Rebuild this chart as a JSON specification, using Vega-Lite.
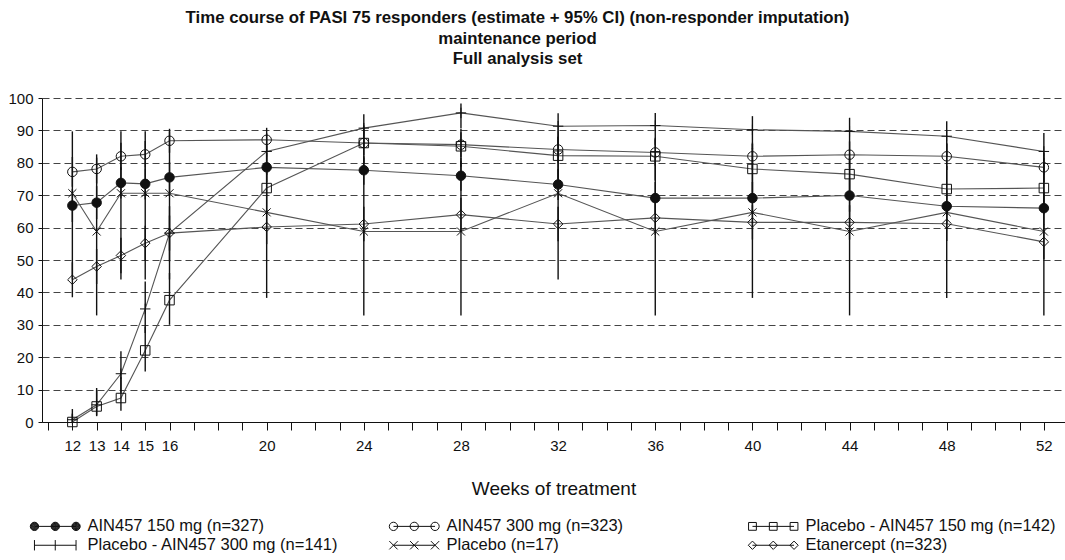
{
  "$schema": "https://vega.github.io/schema/vega-lite/v6.json",
  "width": 1023,
  "height": 324,
  "autosize": {"type": "none"},
  "padding": {"left": 42, "top": 98, "right": 0, "bottom": 138},
  "background": "white",
  "title": {
    "text": ["Time course of PASI 75 responders (estimate + 95% CI) (non-responder imputation)", "maintenance period", "Full analysis set"],
    "anchor": "middle",
    "frame": "group",
    "dx": -36,
    "offset": 23,
    "font": "'Liberation Sans', Arial, sans-serif",
    "fontSize": 16.8,
    "fontWeight": "bold",
    "lineHeight": 20.5,
    "color": "#111"
  },
  "data": {"values": [
    {"group": "AIN457 150 mg (n=327)", "week": 12, "est": 66.8, "lo": 61.7, "hi": 71.9},
    {"group": "AIN457 150 mg (n=327)", "week": 13, "est": 67.7, "lo": 62.6, "hi": 72.8},
    {"group": "AIN457 150 mg (n=327)", "week": 14, "est": 73.8, "lo": 69.0, "hi": 78.6},
    {"group": "AIN457 150 mg (n=327)", "week": 15, "est": 73.5, "lo": 68.7, "hi": 78.3},
    {"group": "AIN457 150 mg (n=327)", "week": 16, "est": 75.5, "lo": 70.8, "hi": 80.2},
    {"group": "AIN457 150 mg (n=327)", "week": 20, "est": 78.6, "lo": 74.1, "hi": 83.1},
    {"group": "AIN457 150 mg (n=327)", "week": 24, "est": 77.7, "lo": 73.2, "hi": 82.2},
    {"group": "AIN457 150 mg (n=327)", "week": 28, "est": 76.0, "lo": 71.4, "hi": 80.6},
    {"group": "AIN457 150 mg (n=327)", "week": 32, "est": 73.3, "lo": 68.5, "hi": 78.1},
    {"group": "AIN457 150 mg (n=327)", "week": 36, "est": 69.1, "lo": 64.1, "hi": 74.1},
    {"group": "AIN457 150 mg (n=327)", "week": 40, "est": 69.1, "lo": 64.1, "hi": 74.1},
    {"group": "AIN457 150 mg (n=327)", "week": 44, "est": 69.9, "lo": 64.9, "hi": 74.9},
    {"group": "AIN457 150 mg (n=327)", "week": 48, "est": 66.6, "lo": 61.5, "hi": 71.7},
    {"group": "AIN457 150 mg (n=327)", "week": 52, "est": 66.0, "lo": 60.9, "hi": 71.1},
    {"group": "AIN457 300 mg (n=323)", "week": 12, "est": 77.2, "lo": 72.6, "hi": 81.8},
    {"group": "AIN457 300 mg (n=323)", "week": 13, "est": 78.1, "lo": 73.6, "hi": 82.6},
    {"group": "AIN457 300 mg (n=323)", "week": 14, "est": 82.0, "lo": 77.8, "hi": 86.2},
    {"group": "AIN457 300 mg (n=323)", "week": 15, "est": 82.6, "lo": 78.5, "hi": 86.7},
    {"group": "AIN457 300 mg (n=323)", "week": 16, "est": 86.8, "lo": 83.1, "hi": 90.5},
    {"group": "AIN457 300 mg (n=323)", "week": 20, "est": 87.1, "lo": 83.4, "hi": 90.8},
    {"group": "AIN457 300 mg (n=323)", "week": 24, "est": 86.1, "lo": 82.3, "hi": 89.9},
    {"group": "AIN457 300 mg (n=323)", "week": 28, "est": 85.6, "lo": 81.8, "hi": 89.4},
    {"group": "AIN457 300 mg (n=323)", "week": 32, "est": 84.1, "lo": 80.1, "hi": 88.1},
    {"group": "AIN457 300 mg (n=323)", "week": 36, "est": 83.2, "lo": 79.1, "hi": 87.3},
    {"group": "AIN457 300 mg (n=323)", "week": 40, "est": 82.0, "lo": 77.8, "hi": 86.2},
    {"group": "AIN457 300 mg (n=323)", "week": 44, "est": 82.5, "lo": 78.4, "hi": 86.6},
    {"group": "AIN457 300 mg (n=323)", "week": 48, "est": 82.0, "lo": 77.8, "hi": 86.2},
    {"group": "AIN457 300 mg (n=323)", "week": 52, "est": 78.6, "lo": 74.1, "hi": 83.1},
    {"group": "Placebo - AIN457 150 mg (n=142)", "week": 12, "est": 0.0, "lo": 0.0, "hi": 2.6},
    {"group": "Placebo - AIN457 150 mg (n=142)", "week": 13, "est": 4.8, "lo": 1.8, "hi": 9.8},
    {"group": "Placebo - AIN457 150 mg (n=142)", "week": 14, "est": 7.4, "lo": 3.5, "hi": 13.8},
    {"group": "Placebo - AIN457 150 mg (n=142)", "week": 15, "est": 22.1, "lo": 15.6, "hi": 29.5},
    {"group": "Placebo - AIN457 150 mg (n=142)", "week": 16, "est": 37.6, "lo": 30.0, "hi": 46.0},
    {"group": "Placebo - AIN457 150 mg (n=142)", "week": 20, "est": 72.2, "lo": 64.5, "hi": 79.5},
    {"group": "Placebo - AIN457 150 mg (n=142)", "week": 24, "est": 86.1, "lo": 79.8, "hi": 91.5},
    {"group": "Placebo - AIN457 150 mg (n=142)", "week": 28, "est": 85.1, "lo": 78.8, "hi": 90.5},
    {"group": "Placebo - AIN457 150 mg (n=142)", "week": 32, "est": 82.2, "lo": 75.0, "hi": 88.0},
    {"group": "Placebo - AIN457 150 mg (n=142)", "week": 36, "est": 82.0, "lo": 74.5, "hi": 87.7},
    {"group": "Placebo - AIN457 150 mg (n=142)", "week": 40, "est": 78.1, "lo": 70.5, "hi": 84.5},
    {"group": "Placebo - AIN457 150 mg (n=142)", "week": 44, "est": 76.5, "lo": 68.8, "hi": 83.2},
    {"group": "Placebo - AIN457 150 mg (n=142)", "week": 48, "est": 71.9, "lo": 63.8, "hi": 79.0},
    {"group": "Placebo - AIN457 150 mg (n=142)", "week": 52, "est": 72.2, "lo": 64.1, "hi": 79.3},
    {"group": "Placebo - AIN457 300 mg (n=141)", "week": 12, "est": 0.7, "lo": 0.0, "hi": 4.0},
    {"group": "Placebo - AIN457 300 mg (n=141)", "week": 13, "est": 5.3, "lo": 2.0, "hi": 10.5},
    {"group": "Placebo - AIN457 300 mg (n=141)", "week": 14, "est": 14.9, "lo": 9.0, "hi": 21.8},
    {"group": "Placebo - AIN457 300 mg (n=141)", "week": 15, "est": 34.9, "lo": 27.5, "hi": 43.4},
    {"group": "Placebo - AIN457 300 mg (n=141)", "week": 16, "est": 58.3, "lo": 49.6, "hi": 66.6},
    {"group": "Placebo - AIN457 300 mg (n=141)", "week": 20, "est": 83.5, "lo": 76.3, "hi": 89.1},
    {"group": "Placebo - AIN457 300 mg (n=141)", "week": 24, "est": 90.7, "lo": 84.6, "hi": 95.0},
    {"group": "Placebo - AIN457 300 mg (n=141)", "week": 28, "est": 95.4, "lo": 90.7, "hi": 98.3},
    {"group": "Placebo - AIN457 300 mg (n=141)", "week": 32, "est": 91.3, "lo": 85.4, "hi": 95.3},
    {"group": "Placebo - AIN457 300 mg (n=141)", "week": 36, "est": 91.5, "lo": 85.6, "hi": 95.4},
    {"group": "Placebo - AIN457 300 mg (n=141)", "week": 40, "est": 90.2, "lo": 84.2, "hi": 94.4},
    {"group": "Placebo - AIN457 300 mg (n=141)", "week": 44, "est": 89.7, "lo": 83.5, "hi": 93.9},
    {"group": "Placebo - AIN457 300 mg (n=141)", "week": 48, "est": 88.2, "lo": 81.8, "hi": 92.8},
    {"group": "Placebo - AIN457 300 mg (n=141)", "week": 52, "est": 83.5, "lo": 76.3, "hi": 89.2},
    {"group": "Placebo (n=17)", "week": 12, "est": 70.6, "lo": 44.0, "hi": 89.7},
    {"group": "Placebo (n=17)", "week": 13, "est": 58.8, "lo": 32.9, "hi": 81.6},
    {"group": "Placebo (n=17)", "week": 14, "est": 70.6, "lo": 44.0, "hi": 89.7},
    {"group": "Placebo (n=17)", "week": 15, "est": 70.6, "lo": 44.0, "hi": 89.7},
    {"group": "Placebo (n=17)", "week": 16, "est": 70.6, "lo": 44.0, "hi": 89.7},
    {"group": "Placebo (n=17)", "week": 20, "est": 64.7, "lo": 38.3, "hi": 85.8},
    {"group": "Placebo (n=17)", "week": 24, "est": 58.8, "lo": 32.9, "hi": 81.6},
    {"group": "Placebo (n=17)", "week": 28, "est": 58.8, "lo": 32.9, "hi": 81.6},
    {"group": "Placebo (n=17)", "week": 32, "est": 70.6, "lo": 44.0, "hi": 89.7},
    {"group": "Placebo (n=17)", "week": 36, "est": 58.8, "lo": 32.9, "hi": 81.6},
    {"group": "Placebo (n=17)", "week": 40, "est": 64.7, "lo": 38.3, "hi": 85.8},
    {"group": "Placebo (n=17)", "week": 44, "est": 58.8, "lo": 32.9, "hi": 81.6},
    {"group": "Placebo (n=17)", "week": 48, "est": 64.7, "lo": 38.3, "hi": 85.8},
    {"group": "Placebo (n=17)", "week": 52, "est": 58.8, "lo": 32.9, "hi": 81.6},
    {"group": "Etanercept (n=323)", "week": 12, "est": 43.9, "lo": 38.5, "hi": 49.3},
    {"group": "Etanercept (n=323)", "week": 13, "est": 48.0, "lo": 42.6, "hi": 53.4},
    {"group": "Etanercept (n=323)", "week": 14, "est": 51.4, "lo": 45.9, "hi": 56.9},
    {"group": "Etanercept (n=323)", "week": 15, "est": 55.2, "lo": 49.8, "hi": 60.6},
    {"group": "Etanercept (n=323)", "week": 16, "est": 58.3, "lo": 52.9, "hi": 63.7},
    {"group": "Etanercept (n=323)", "week": 20, "est": 60.2, "lo": 54.9, "hi": 65.5},
    {"group": "Etanercept (n=323)", "week": 24, "est": 61.1, "lo": 55.8, "hi": 66.4},
    {"group": "Etanercept (n=323)", "week": 28, "est": 64.0, "lo": 58.8, "hi": 69.2},
    {"group": "Etanercept (n=323)", "week": 32, "est": 61.1, "lo": 55.8, "hi": 66.4},
    {"group": "Etanercept (n=323)", "week": 36, "est": 63.0, "lo": 57.7, "hi": 68.3},
    {"group": "Etanercept (n=323)", "week": 40, "est": 61.6, "lo": 56.3, "hi": 66.9},
    {"group": "Etanercept (n=323)", "week": 44, "est": 61.6, "lo": 56.3, "hi": 66.9},
    {"group": "Etanercept (n=323)", "week": 48, "est": 61.2, "lo": 55.9, "hi": 66.5},
    {"group": "Etanercept (n=323)", "week": 52, "est": 55.6, "lo": 50.2, "hi": 61.0}
  ]},
  "encoding": {
    "x": {
      "field": "week", "type": "quantitative",
      "scale": {"domain": [10.75, 52.87], "nice": false, "zero": false},
      "axis": {
        "title": "Weeks of treatment",
        "values": [11,12,13,14,15,16,17,18,19,20,21,22,23,24,25,26,27,28,29,30,31,32,33,34,35,36,37,38,39,40,41,42,43,44,45,46,47,48,49,50,51,52],
        "labelExpr": "indexof([12,13,14,15,16,20,24,28,32,36,40,44,48,52], datum.value) >= 0 ? datum.label : ''",
        "grid": false,
        "tickSize": 8,
        "labelPadding": 8,
        "labelOverlap": false,
        "labelFlush": false,
        "labelAngle": 0,
        "titlePadding": 26
      }
    },
    "y": {
      "field": "est", "type": "quantitative",
      "scale": {"domain": [0, 100], "nice": false},
      "axis": {"title": null, "values": [0,10,20,30,40,50,60,70,80,90,100], "tickCount": 11, "labelOverlap": false, "grid": true, "gridDash": [7, 4], "gridColor": "#444", "gridWidth": 1, "tickSize": 4, "labelPadding": 5}
    },
    "xOffset": {
      "field": "group", "type": "nominal",
      "scale": {"type": "point", "padding": 0, "range": [-6, 6.5],
        "domain": ["AIN457 150 mg (n=327)", "AIN457 300 mg (n=323)", "Placebo - AIN457 150 mg (n=142)", "Placebo - AIN457 300 mg (n=141)", "Placebo (n=17)", "Etanercept (n=323)"]}
    }
  },
  "layer": [
    {
      "mark": {"type": "line", "stroke": "#555", "strokeWidth": 1.1},
      "encoding": {
        "detail": {"field": "group", "type": "nominal"}
      }
    },
    {
      "mark": {"type": "rule", "stroke": "#111", "strokeWidth": 1.4},
      "encoding": {
        "y": {
          "field": "lo", "type": "quantitative",
          "scale": {"domain": [0, 100], "nice": false},
          "axis": {"title": null, "values": [0,10,20,30,40,50,60,70,80,90,100], "tickCount": 11, "labelOverlap": false, "grid": true, "gridDash": [7, 4], "gridColor": "#444", "gridWidth": 1, "tickSize": 4, "labelPadding": 5}
        },
        "y2": {"field": "hi"}
      }
    },
    {
      "mark": {"type": "point", "size": 90, "stroke": "#111", "strokeWidth": 1, "opacity": 1},
      "encoding": {
        "shape": {"field": "group", "type": "nominal", "legend": null,
          "scale": {"domain": ["AIN457 150 mg (n=327)", "AIN457 300 mg (n=323)", "Placebo - AIN457 150 mg (n=142)", "Placebo - AIN457 300 mg (n=141)", "Placebo (n=17)", "Etanercept (n=323)"],
            "range": ["circle", "circle", "square", "M-1.1,0L1.1,0M0,-1.1L0,1.1", "M-0.85,-0.85L0.85,0.85M-0.85,0.85L0.85,-0.85", "diamond"]}},
        "fill": {"condition": {"test": "datum.group === 'AIN457 150 mg (n=327)'", "value": "#111"}, "value": "transparent"}
      }
    },
    {
      "transform": [{"filter": "datum.week > 1000"}],
      "mark": {"type": "point", "size": 108, "stroke": "#111", "strokeWidth": 1, "opacity": 1, "filled": false},
      "encoding": {
        "shape": {"field": "group", "type": "nominal",
          "scale": {"domain": ["AIN457 150 mg (n=327)", "AIN457 300 mg (n=323)", "Placebo - AIN457 150 mg (n=142)", "Placebo - AIN457 300 mg (n=141)", "Placebo (n=17)", "Etanercept (n=323)"],
            "range": [
              "M-4,0H4M-4.8,0A0.8,0.8,0,1,0,-3.2,0A0.8,0.8,0,1,0,-4.8,0ZM-4.7,0A0.7,0.7,0,1,0,-3.3,0A0.7,0.7,0,1,0,-4.7,0ZM-4.6,0A0.6,0.6,0,1,0,-3.4,0A0.6,0.6,0,1,0,-4.6,0ZM-4.5,0A0.5,0.5,0,1,0,-3.5,0A0.5,0.5,0,1,0,-4.5,0ZM-4.4,0A0.4,0.4,0,1,0,-3.6,0A0.4,0.4,0,1,0,-4.4,0ZM-4.3,0A0.3,0.3,0,1,0,-3.7,0A0.3,0.3,0,1,0,-4.3,0ZM-4.2,0A0.2,0.2,0,1,0,-3.8,0A0.2,0.2,0,1,0,-4.2,0ZM-4.1,0A0.1,0.1,0,1,0,-3.9,0A0.1,0.1,0,1,0,-4.1,0ZM-0.8,0A0.8,0.8,0,1,0,0.8,0A0.8,0.8,0,1,0,-0.8,0ZM-0.7,0A0.7,0.7,0,1,0,0.7,0A0.7,0.7,0,1,0,-0.7,0ZM-0.6,0A0.6,0.6,0,1,0,0.6,0A0.6,0.6,0,1,0,-0.6,0ZM-0.5,0A0.5,0.5,0,1,0,0.5,0A0.5,0.5,0,1,0,-0.5,0ZM-0.4,0A0.4,0.4,0,1,0,0.4,0A0.4,0.4,0,1,0,-0.4,0ZM-0.3,0A0.3,0.3,0,1,0,0.3,0A0.3,0.3,0,1,0,-0.3,0ZM-0.2,0A0.2,0.2,0,1,0,0.2,0A0.2,0.2,0,1,0,-0.2,0ZM-0.1,0A0.1,0.1,0,1,0,0.1,0A0.1,0.1,0,1,0,-0.1,0ZM3.2,0A0.8,0.8,0,1,0,4.8,0A0.8,0.8,0,1,0,3.2,0ZM3.3,0A0.7,0.7,0,1,0,4.7,0A0.7,0.7,0,1,0,3.3,0ZM3.4,0A0.6,0.6,0,1,0,4.6,0A0.6,0.6,0,1,0,3.4,0ZM3.5,0A0.5,0.5,0,1,0,4.5,0A0.5,0.5,0,1,0,3.5,0ZM3.6,0A0.4,0.4,0,1,0,4.4,0A0.4,0.4,0,1,0,3.6,0ZM3.7,0A0.3,0.3,0,1,0,4.3,0A0.3,0.3,0,1,0,3.7,0ZM3.8,0A0.2,0.2,0,1,0,4.2,0A0.2,0.2,0,1,0,3.8,0ZM3.9,0A0.1,0.1,0,1,0,4.1,0A0.1,0.1,0,1,0,3.9,0Z",
              "M-4,0H4M-4.8,0A0.8,0.8,0,1,0,-3.2,0A0.8,0.8,0,1,0,-4.8,0ZM-0.8,0A0.8,0.8,0,1,0,0.8,0A0.8,0.8,0,1,0,-0.8,0ZM3.2,0A0.8,0.8,0,1,0,4.8,0A0.8,0.8,0,1,0,3.2,0Z",
              "M-4,0H4M-4.75,-0.75H-3.25V0.75H-4.75ZM-0.75,-0.75H0.75V0.75H-0.75ZM3.25,-0.75H4.75V0.75H3.25Z",
              "M-4,0H4M-4,-1V1M0,-1V1M4,-1V1",
              "M-4,0H4M-4.8,-0.8L-3.2,0.8M-4.8,0.8L-3.2,-0.8M-0.8,-0.8L0.8,0.8M-0.8,0.8L0.8,-0.8M3.2,-0.8L4.8,0.8M3.2,0.8L4.8,-0.8",
              "M-4,0H4M-4.8,0L-4,-0.8L-3.2,0L-4,0.8ZM-0.8,0L0,-0.8L0.8,0L0,0.8ZM3.2,0L4,-0.8L4.8,0L4,0.8Z"
            ]},
          "legend": {
            "orient": "none", "legendX": -12, "legendY": 420,
            "direction": "horizontal", "columns": 3, "gridAlign": "all",
            "columnPadding": 48, "rowPadding": 2, "title": null,
            "labelFont": "'Liberation Sans', Arial, sans-serif",
            "labelFontSize": 16.5, "labelColor": "#111", "labelLimit": 0,
            "symbolSize": 108, "symbolOffset": 17, "labelOffset": 24,
            "symbolStrokeColor": "#111", "symbolStrokeWidth": 1,
            "symbolFillColor": "transparent"
          }
        }
      }
    }
  ],
  "resolve": {"scale": {"shape": "independent"}, "legend": {"shape": "independent"}},
  "config": {
    "view": {"stroke": null},
    "font": "'Liberation Sans', Arial, sans-serif",
    "axis": {
      "domainColor": "#111", "domainWidth": 1, "tickColor": "#111", "tickWidth": 1,
      "labelFont": "'Liberation Sans', Arial, sans-serif",
      "labelFontSize": 15, "labelColor": "#111",
      "titleFont": "'Liberation Sans', Arial, sans-serif",
      "titleFontSize": 19, "titleFontWeight": "normal", "titleColor": "#111"
    }
  }
}
